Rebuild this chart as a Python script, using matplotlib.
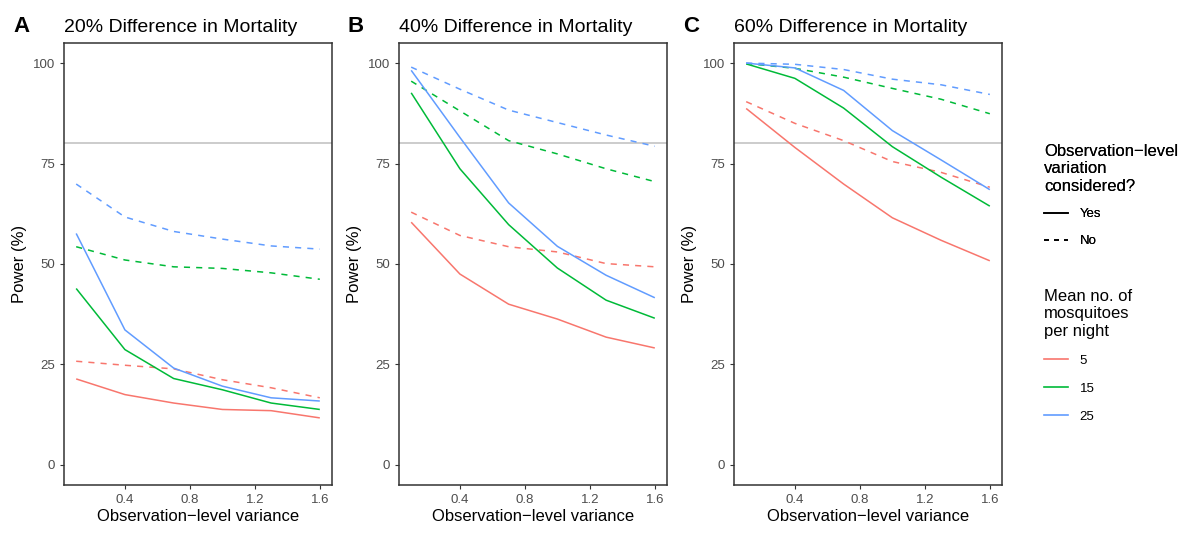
import matplotlib
matplotlib.use("Agg")
import matplotlib.pyplot as plt
from matplotlib.lines import Line2D

plt.rcParams['font.family'] = ['Liberation Sans', 'DejaVu Sans']

# data
variance = [0.1, 0.4, 0.7, 1.0, 1.3, 1.6]
mosquitoes = ["5", "15", "25"]
panels = ["A", "B", "C"]
titles = ["20% Difference in Mortality", "40% Difference in Mortality", "60% Difference in Mortality"]

# solid = observation-level variation considered (Yes), dashed = No
a_yes_5 = [21.4, 17.5, 15.4, 13.8, 13.5, 11.7]
a_yes_15 = [43.9, 28.7, 21.5, 18.7, 15.4, 13.8]
a_yes_25 = [57.6, 33.6, 24.1, 19.6, 16.7, 15.9]
a_no_5 = [25.8, 24.8, 23.9, 21.2, 19.2, 16.7]
a_no_15 = [54.3, 51.0, 49.3, 48.9, 47.8, 46.2]
a_no_25 = [69.9, 61.7, 58.1, 56.2, 54.5, 53.7]

b_yes_5 = [60.4, 47.5, 40.0, 36.3, 31.8, 29.1]
b_yes_15 = [92.6, 73.7, 59.8, 49.0, 41.0, 36.5]
b_yes_25 = [98.2, 81.5, 65.2, 54.4, 47.2, 41.6]
b_no_5 = [62.9, 57.1, 54.3, 53.0, 50.1, 49.3]
b_no_15 = [95.5, 88.1, 80.7, 77.4, 73.7, 70.5]
b_no_25 = [99.0, 93.5, 88.3, 85.2, 82.1, 79.3]

c_yes_5 = [88.7, 79.0, 69.9, 61.5, 55.9, 50.8]
c_yes_15 = [99.8, 96.2, 88.8, 79.2, 71.6, 64.4]
c_yes_25 = [100.0, 98.8, 93.2, 83.2, 75.9, 68.5]
c_no_5 = [90.4, 85.0, 80.7, 75.5, 72.8, 69.1]
c_no_15 = [99.9, 98.7, 96.5, 93.7, 91.0, 87.4]
c_no_25 = [100.0, 99.7, 98.4, 96.0, 94.6, 92.2]

target = 80

yes_data = [[a_yes_5, a_yes_15, a_yes_25], [b_yes_5, b_yes_15, b_yes_25], [c_yes_5, c_yes_15, c_yes_25]]
no_data = [[a_no_5, a_no_15, a_no_25], [b_no_5, b_no_15, b_no_25], [c_no_5, c_no_15, c_no_25]]

colors = ["#F8766D", "#00BA38", "#619CFF"]
W, H = 1179, 547
fig = plt.figure(figsize=(W / 100, H / 100), dpi=100)

lefts = [64, 399, 734]
top, bottom, width = 43, 485, 268

for i in range(3):
    ax = fig.add_axes([lefts[i] / W, 1 - bottom / H, width / W, (bottom - top) / H])
    ax.axhline(target, color="#BEBEBE", lw=1.1, zorder=1)
    for j in range(3):
        ax.plot(variance, yes_data[i][j], color=colors[j], lw=1.1, solid_capstyle="butt")
        ax.plot(variance, no_data[i][j], color=colors[j], lw=1.1, ls=(0, (4, 4)))
    ax.set_xlim(0.025, 1.675)
    ax.set_ylim(-5, 105)
    ax.set_xticks([0.4, 0.8, 1.2, 1.6])
    ax.set_xticklabels(["0.4", "0.8", "1.2", "1.6"])
    ax.set_yticks([0, 25, 50, 75, 100])
    ax.tick_params(colors="#333333", labelcolor="#4D4D4D", labelsize=9.5, length=3, width=0.8)
    for s in ax.spines.values():
        s.set_color("#333333")
        s.set_linewidth(1.1)
    ax.set_xlabel("Observation\u2212level variance", fontsize=12, labelpad=2)
    ax.set_ylabel("Power (%)", fontsize=12, labelpad=4)
    ax.set_title(titles[i], fontsize=14, loc="left", pad=8)
    fig.text((lefts[i] - 51) / W, 1 - 27 / H, panels[i], fontsize=16, fontweight="bold", va="center")

ls_handles = [Line2D([], [], color="black", lw=1.2),
              Line2D([], [], color="black", lw=1.2, ls=(0, (3, 3)))]
leg1 = fig.legend(ls_handles, ["Yes", "No"], title="Observation\u2212level\nvariation\nconsidered?",
                  loc="upper left", bbox_to_anchor=(1032 / W, 1 - 132 / H), frameon=False,
                  fontsize=9.5, title_fontsize=12, alignment="left", handlelength=1.8,
                  labelspacing=1.1, handletextpad=0.9)
col_handles = [Line2D([], [], color=c, lw=1.2) for c in colors]
leg2 = fig.legend(col_handles, mosquitoes, title="Mean no. of\nmosquitoes\nper night",
                  loc="upper left", bbox_to_anchor=(1032 / W, 1 - 277 / H), frameon=False,
                  fontsize=9.5, title_fontsize=12, alignment="left", handlelength=1.8,
                  labelspacing=1.2, handletextpad=0.9)
fig.add_artist(leg1)

fig.savefig("out.png", dpi=100)
